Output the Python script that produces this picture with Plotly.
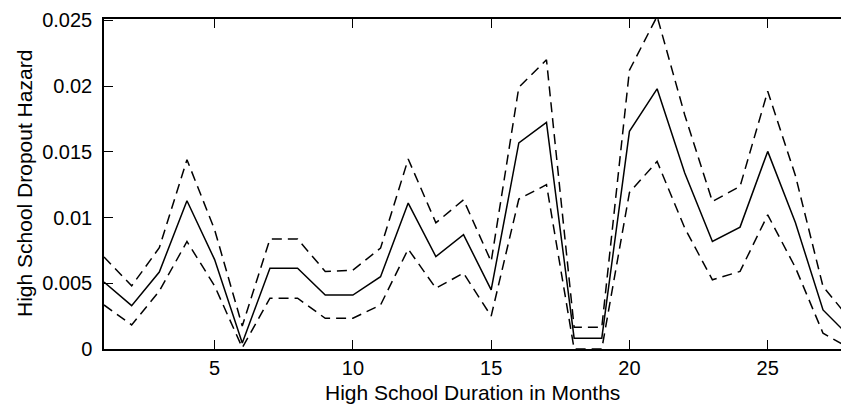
import plotly.graph_objects as go

months = list(range(1, 29))
hazard = [0.00510, 0.00330, 0.00585, 0.01128, 0.00680, 0.00045, 0.00615, 0.00615,
          0.00410, 0.00410, 0.00550, 0.01110, 0.00703, 0.00870, 0.00450, 0.01567,
          0.01724, 0.00082, 0.00082, 0.01656, 0.01979, 0.01339, 0.00818, 0.00927,
          0.01503, 0.00962, 0.00297, 0.00086]
upper = [0.00700, 0.00480, 0.00770, 0.01440, 0.00907, 0.00175, 0.00836, 0.00836,
         0.00590, 0.00600, 0.00767, 0.01445, 0.00960, 0.01135, 0.00665, 0.01990,
         0.02200, 0.00165, 0.00165, 0.02120, 0.02530, 0.01780, 0.01122, 0.01237,
         0.01960, 0.01320, 0.00475, 0.00220]
lower = [0.00335, 0.00183, 0.00440, 0.00818, 0.00480, 0.00010, 0.00386, 0.00386,
         0.00234, 0.00234, 0.00335, 0.00760, 0.00462, 0.00577, 0.00250, 0.01140,
         0.01250, 0.00000, 0.00000, 0.01190, 0.01427, 0.00920, 0.00526, 0.00590,
         0.01020, 0.00620, 0.00120, 0.00000]

x_ticks = [5, 10, 15, 20, 25]
y_ticks = [0, 0.005, 0.01, 0.015, 0.02, 0.025]
y_tick_text = ["0", "0.005", "0.01", "0.015", "0.02", "0.025"]
x_title = "High School Duration in Months"
y_title = "High School Dropout Hazard"

fig = go.Figure()
fig.add_trace(go.Scatter(x=months, y=upper, mode="lines", hoverinfo="skip",
                         line=dict(color="black", width=1.5, dash="10px,6px")))
fig.add_trace(go.Scatter(x=months, y=hazard, mode="lines", hoverinfo="skip",
                         line=dict(color="black", width=1.5)))
fig.add_trace(go.Scatter(x=months, y=lower, mode="lines", hoverinfo="skip",
                         line=dict(color="black", width=1.5, dash="10px,6px")))

font = "Liberation Sans, Arial, Helvetica, sans-serif"
W, H = 841, 407
ml, mr, mt, mb = 104, 0, 19, 58
pw, ph = W - ml - mr, H - mt - mb

fig.update_layout(
    width=W, height=H,
    margin=dict(l=ml, r=mr, t=mt, b=mb),
    paper_bgcolor="white", plot_bgcolor="white",
    showlegend=False,
    font=dict(family=font, size=20, color="black"),
    annotations=[
        dict(text=x_title, xref="paper", yref="paper", x=0.5,
             y=-(mb - 1) / ph, xanchor="center", yanchor="bottom",
             showarrow=False, font=dict(size=21)),
        dict(text=y_title, xref="paper", yref="paper", x=(24 - ml) / pw,
             y=0.5, xanchor="center", yanchor="middle", textangle=-90,
             showarrow=False, font=dict(size=21)),
    ],
)
fig.update_xaxes(
    range=[1, 27.65], tickvals=x_ticks, ticks="inside", ticklen=9, tickwidth=1,
    tickcolor="black", showline=True, linecolor="black", linewidth=1.5,
    mirror="ticks", showgrid=False, zeroline=False,
    tickfont=dict(size=20),
)
fig.update_yaxes(
    range=[0, 0.0251], tickvals=y_ticks, ticktext=y_tick_text, ticks="inside",
    ticklen=9, tickwidth=1, tickcolor="black", showline=True, linecolor="black",
    linewidth=1.5, showgrid=False, zeroline=False,
    tickfont=dict(size=20), ticklabelstandoff=6,
)
fig.write_html("out.html", config={"displayModeBar": False},
               post_script="document.body.style.margin='0';document.body.style.overflow='hidden';")
